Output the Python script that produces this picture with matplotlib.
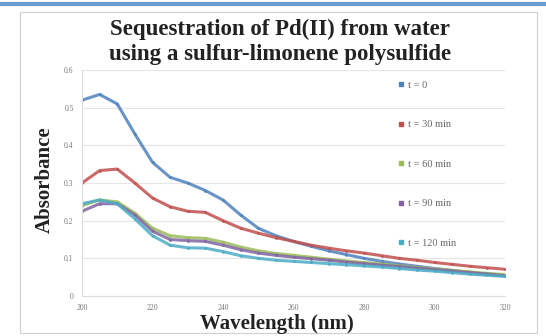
import matplotlib
matplotlib.use("Agg")
import matplotlib.pyplot as plt
from matplotlib.lines import Line2D
from matplotlib.patches import Rectangle

plt.rcParams['font.family'] = ['Liberation Serif', 'DejaVu Serif']

# wavelength (nm), every 5 nm
wavelength = [200, 205, 210, 215, 220, 225, 230, 235, 240, 245, 250, 255, 260,
              265, 270, 275, 280, 285, 290, 295, 300, 305, 310, 315, 320]

t0 = [0.52, 0.535, 0.51, 0.43, 0.355, 0.315, 0.30, 0.28, 0.255, 0.215, 0.18, 0.16, 0.145,
      0.132, 0.12, 0.11, 0.10, 0.092, 0.085, 0.079, 0.073, 0.068, 0.063, 0.058, 0.054]
t30 = [0.30, 0.333, 0.337, 0.30, 0.26, 0.237, 0.225, 0.222, 0.20, 0.18, 0.167, 0.155, 0.145,
       0.135, 0.127, 0.12, 0.114, 0.107, 0.10, 0.095, 0.089, 0.084, 0.079, 0.075, 0.071]
t60 = [0.24, 0.255, 0.25, 0.22, 0.18, 0.16, 0.155, 0.153, 0.143, 0.13, 0.12, 0.113, 0.108,
       0.103, 0.098, 0.093, 0.089, 0.085, 0.08, 0.076, 0.072, 0.068, 0.064, 0.06, 0.057]
t90 = [0.225, 0.245, 0.245, 0.215, 0.172, 0.15, 0.147, 0.145, 0.135, 0.123, 0.114, 0.108, 0.103,
       0.099, 0.095, 0.09, 0.086, 0.082, 0.078, 0.074, 0.07, 0.066, 0.062, 0.058, 0.054]
t120 = [0.245, 0.255, 0.245, 0.205, 0.16, 0.135, 0.128, 0.127, 0.118, 0.107, 0.10, 0.095, 0.092,
        0.089, 0.086, 0.083, 0.08, 0.077, 0.073, 0.069, 0.066, 0.062, 0.058, 0.055, 0.052]

labels = ['t = 0', 't = 30 min', 't = 60 min', 't = 90 min', 't = 120 min']
colors = ['#4F81BD', '#C0504D', '#9BBB59', '#8064A2', '#4BACC6']
series = [t0, t30, t60, t90, t120]

fig = plt.figure(figsize=(5.46, 3.36), dpi=100)

# blue line on top and gray frame round the chart
fig.add_artist(Line2D([0, 1], [0.988, 0.988], color='#6A9BD1', lw=3, transform=fig.transFigure))
fig.add_artist(Rectangle((20 / 546, 3 / 336), 517 / 546, 321 / 336, fill=False,
                         ec='#D0D0D0', lw=0.8, transform=fig.transFigure))

ax = fig.add_axes([82 / 546, 40 / 336, 423 / 546, 226 / 336])

for ys, c in zip(series, colors):
    ax.plot(wavelength, ys, color=c, lw=2.2, marker='o', ms=1.0, alpha=0.85,
            solid_capstyle='round', solid_joinstyle='round')

ax.set_xlim(200, 320)
ax.set_ylim(0, 0.6)
ax.set_xticks([200, 220, 240, 260, 280, 300, 320])
ax.set_yticks([0, 0.1, 0.2, 0.3, 0.4, 0.5, 0.6])
ax.set_yticklabels(['0', '0.1', '0.2', '0.3', '0.4', '0.5', '0.6'])
ax.tick_params(labelsize=5.5, colors='#777777', length=0, pad=6)
ax.grid(axis='y', color='#E6E6E6', lw=0.8)
ax.set_axisbelow(True)
for s in ['top', 'right']:
    ax.spines[s].set_visible(False)
ax.spines['left'].set_color('#DDDDDD')
ax.spines['bottom'].set_color('#DDDDDD')

fig.text(277 / 546, 1 - 324 / 336, 'Wavelength (nm)', ha='center', va='center',
         fontsize=15, fontweight='bold', color='#222222')
fig.text(45 / 546, 1 - 180 / 336, 'Absorbance', ha='center', va='center', rotation=90,
         fontsize=15, fontweight='bold', color='#222222')

fig.text(280 / 546, 1 - 42 / 336, 'Sequestration of Pd(II) from water\nusing a sulfur-limonene polysulfide',
         ha='center', va='center', fontsize=16.5, fontweight='bold', color='#222222',
         linespacing=1.2)

handles = [Line2D([], [], color=c, marker='s', ms=2.5, ls='none') for c in colors]
ax.legend(handles, labels, loc='upper left', bbox_to_anchor=(0.725, 0.995), frameon=False,
          fontsize=7.5, labelcolor='#666666', labelspacing=2.9, handlelength=0.6,
          handletextpad=0.4)

fig.savefig('out.png', dpi=100)
